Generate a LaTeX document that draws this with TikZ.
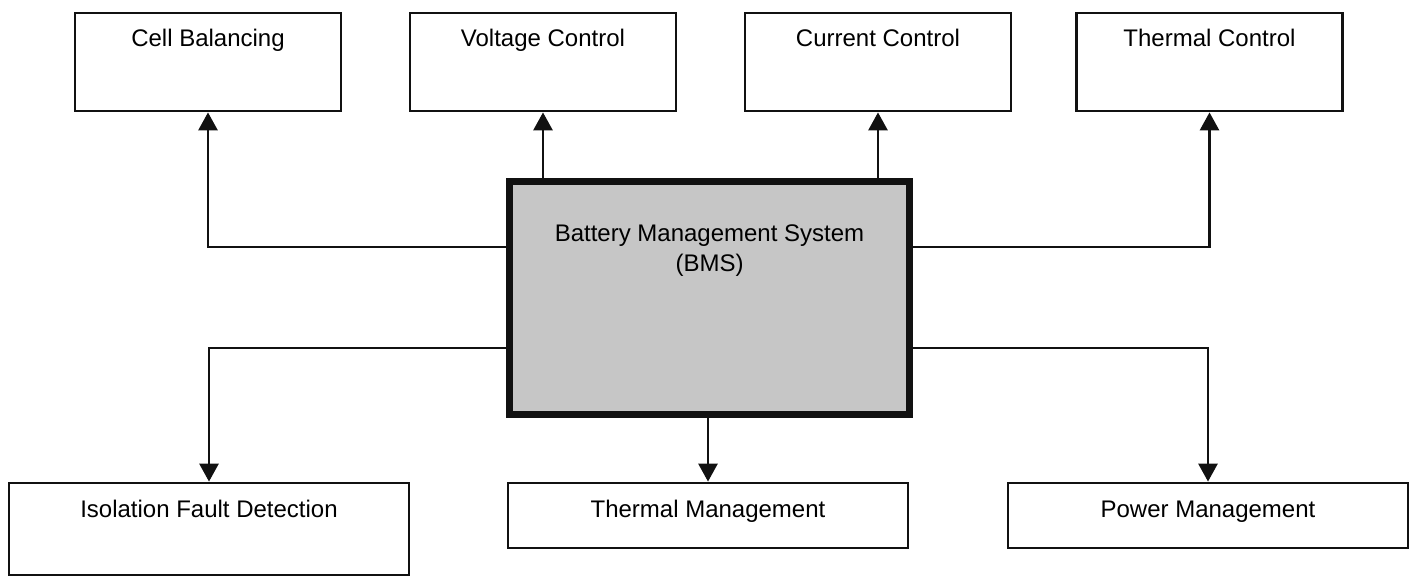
\documentclass[tikz,border=0pt]{standalone}
\usepackage{fontspec}
\setmainfont{Liberation Sans}
\usepackage{tikz}
\usetikzlibrary{
  arrows.meta,
  positioning,
  calc
}
\definecolor{bmsInk}{HTML}{111111}
\definecolor{bmsCore}{HTML}{C6C6C6}
\tikzset{
  bmsnode/.style={
    draw=bmsInk, line width=2.8pt, fill=white, inner sep=0pt,
    font=\fontsize{24}{30}\selectfont, text height=34pt
  },
  taskbox/.style={bmsnode, minimum width=266pt, minimum height=98pt, text depth=64pt},
  wideboxtall/.style={bmsnode, minimum width=400pt, minimum height=92pt, text depth=58pt},
  widebox/.style={bmsnode, minimum width=400pt, minimum height=65pt, text depth=31pt},
  corebox/.style={
    draw=bmsInk, line width=7.5pt, fill=bmsCore, inner sep=0pt,
    minimum width=400pt, minimum height=233pt
  },
  corelabel/.style={font=\fontsize{24}{30}\selectfont, align=center, inner sep=0pt},
  link/.style={-{Triangle[length=18pt, width=19pt]}, line width=2.8pt, draw=bmsInk}
}

\begin{document}
\begin{tikzpicture}[x=1pt, y=-1pt]
  \useasboundingbox (0,0) rectangle (1417,578);
  % central unit
  \node[corebox] (bms) at (709.5,298) {};
  \node[corelabel, anchor=north] (bmstext) at ([yshift=-47pt]bms.north) {Battery Management System\\(BMS)};
  % control tasks
  \node[taskbox] (cell) at (208,62) {Cell Balancing};
  \node[taskbox] (volt) at (543,62) {Voltage Control};
  \node[taskbox] (curr) at (878,62) {Current Control};
  \node[taskbox] (therm) at (1209.5,62) {Thermal Control};
  % management tasks
  \node[wideboxtall] (iso) at (209,529) {Isolation Fault Detection};
  \node[widebox] (tman) at (708,515.5) {Thermal Management};
  \node[widebox] (pman) at (1208,515.5) {Power Management};
  % connectors
  \draw[link] ([yshift=51pt]bms.west) -| (cell.south);
  \draw[link] (bms.north -| volt.south) -- (volt.south);
  \draw[link] (bms.north -| curr.south) -- (curr.south);
  \draw[link] ([yshift=51pt]bms.east) -| (therm.south);
  \draw[link] ([yshift=-50pt]bms.west) -| (iso.north);
  \draw[link] (bms.south -| tman.north) -- (tman.north);
  \draw[link] ([yshift=-50pt]bms.east) -| (pman.north);
\end{tikzpicture}
\end{document}
